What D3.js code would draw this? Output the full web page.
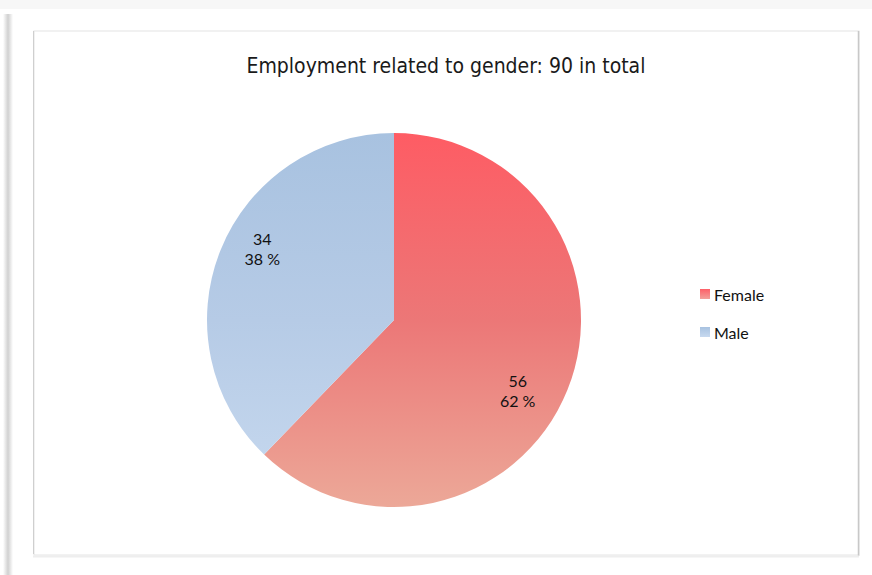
<!DOCTYPE html>
<html><head><meta charset="utf-8">
<script src="https://cdn.jsdelivr.net/npm/d3@7"></script>
<style>html,body{margin:0;padding:0;background:#fff;}svg{display:block;}</style>
</head><body>
<script>
const categories = ["Female", "Male"];
const values = [56, 34];
const percentLabels = ["62 %", "38 %"];
const titleText = "Employment related to gender: 90 in total";

const W = 872, H = 575;
const svg = d3.select("body").append("svg").attr("width", W).attr("height", H);
const defs = svg.append("defs");

// page decoration
const sh = defs.append("linearGradient").attr("id","lsh").attr("x1",0).attr("x2",1).attr("y1",0).attr("y2",0);
sh.append("stop").attr("offset",0).attr("stop-color","#ffffff");
sh.append("stop").attr("offset",0.5).attr("stop-color","#d0d0d0");
sh.append("stop").attr("offset",1).attr("stop-color","#ffffff");
svg.append("rect").attr("x",0).attr("y",0).attr("width",W).attr("height",9).attr("fill","#f7f7f7");
svg.append("rect").attr("x",3).attr("y",14).attr("width",10).attr("height",H-14).attr("fill","url(#lsh)");
svg.append("rect").attr("x",34).attr("y",31).attr("width",825).attr("height",524)
  .attr("fill","#fff").attr("stroke","#e4e4e4").attr("stroke-width",1);
svg.append("line").attr("x1",858.5).attr("x2",858.5).attr("y1",31).attr("y2",556).attr("stroke","#c8c8c8").attr("stroke-width",1.5);
svg.append("line").attr("x1",33.5).attr("x2",33.5).attr("y1",31).attr("y2",554).attr("stroke","#cfcfcf").attr("stroke-width",1);
svg.append("line").attr("x1",33).attr("x2",859).attr("y1",556.5).attr("y2",556.5).attr("stroke","#eeeeee").attr("stroke-width",2);

svg.append("text").attr("x",446).attr("y",73).attr("text-anchor","middle")
  .attr("font-family","'DejaVu Sans Condensed','DejaVu Sans',sans-serif").attr("font-size",21)
  .attr("fill","#1a1a1a").text(titleText);

const cx = 394, cy = 320, r = 187;
const grads = [
  {id:"gF", top:"#fe5c64", mid:"#ec7777", bot:"#eca898"},
  {id:"gM", top:"#a8c2e0", mid:"#b6cbe6", bot:"#c7d9ef"}
];
grads.forEach(g => {
  const lg = defs.append("linearGradient").attr("id", g.id)
    .attr("gradientUnits","userSpaceOnUse").attr("x1",0).attr("x2",0).attr("y1",-r).attr("y2",r);
  lg.append("stop").attr("offset",0).attr("stop-color",g.top);
  lg.append("stop").attr("offset",0.5).attr("stop-color",g.mid);
  lg.append("stop").attr("offset",1).attr("stop-color",g.bot);
});
const legGrads = [
  {id:"lF", top:"#fd6068", bot:"#f2a09a"},
  {id:"lM", top:"#a8c2e0", bot:"#c7d9ef"}
];
legGrads.forEach(g => {
  const lg = defs.append("linearGradient").attr("id", g.id).attr("x1",0).attr("x2",0).attr("y1",0).attr("y2",1);
  lg.append("stop").attr("offset",0).attr("stop-color",g.top);
  lg.append("stop").attr("offset",1).attr("stop-color",g.bot);
});

const pie = d3.pie().sort(null).value(d => d)(values);
const arc = d3.arc().innerRadius(0).outerRadius(r);
const g = svg.append("g").attr("transform", `translate(${cx},${cy})`);
g.selectAll("path").data(pie).join("path")
  .attr("d", arc)
  .attr("fill", (d,i) => `url(#${grads[i].id})`);

// labels placed slightly clockwise of each slice's mid-angle
const labR = 146, labShift = 7 * Math.PI / 180;
const lab = g.selectAll("g.lab").data(pie).join("g").attr("class","lab")
  .attr("transform", d => {
    const a = (d.startAngle + d.endAngle) / 2 + labShift;
    return `translate(${labR*Math.sin(a) - 4},${-labR*Math.cos(a)})`;
  });
const ff = "Lato,'Open Sans',sans-serif";
lab.append("text").attr("text-anchor","middle").attr("y",-4)
  .attr("font-family",ff).attr("font-size",16).attr("fill","#111")
  .text((d,i) => values[i]);
lab.append("text").attr("text-anchor","middle").attr("y",16)
  .attr("font-family",ff).attr("font-size",16).attr("fill","#111")
  .text((d,i) => percentLabels[i]);

const leg = svg.append("g").attr("transform","translate(700,289)");
const li = leg.selectAll("g").data(categories).join("g").attr("transform",(d,i)=>`translate(0,${i*38})`);
li.append("rect").attr("width",10).attr("height",10).attr("fill",(d,i)=>`url(#${legGrads[i].id})`);
li.append("text").attr("x",14).attr("y",12).attr("font-family",ff)
  .attr("font-size",16).attr("fill","#111").text(d=>d);
</script>
</body></html>
